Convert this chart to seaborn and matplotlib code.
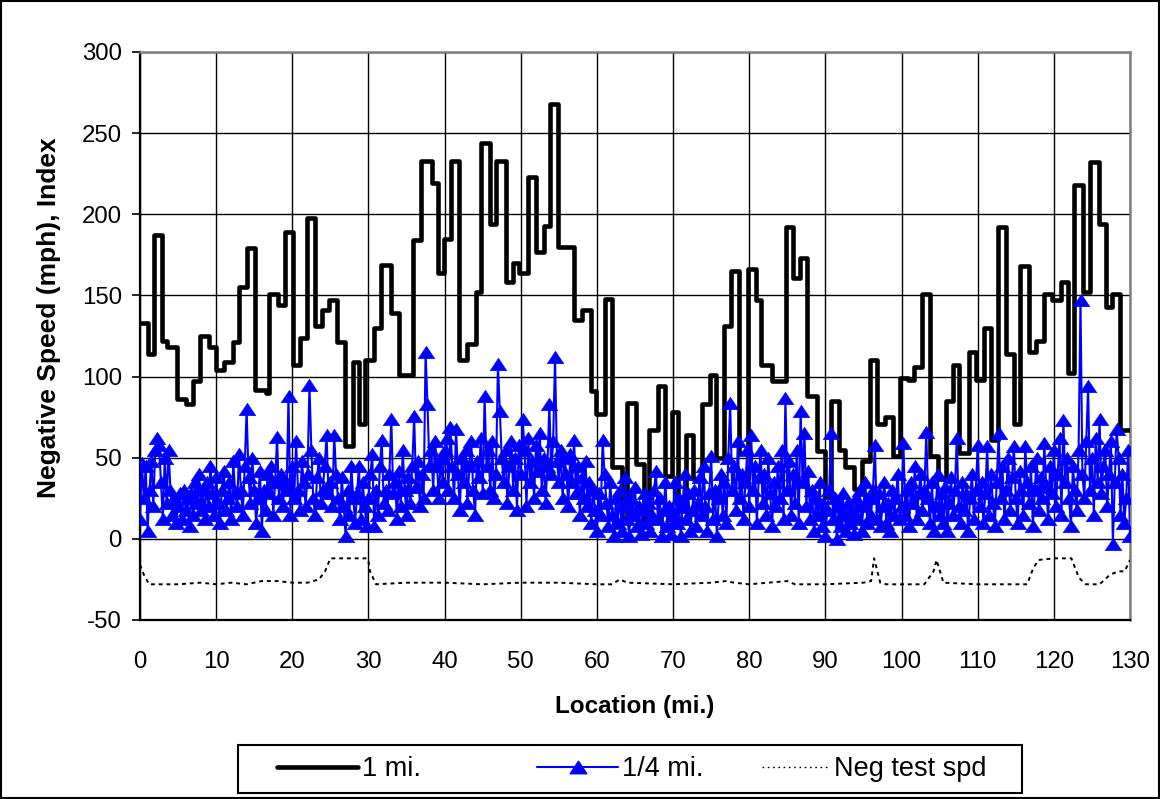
import numpy as np
import pandas as pd
import matplotlib
matplotlib.use("Agg")
import matplotlib.pyplot as plt
from matplotlib.lines import Line2D
from matplotlib.patches import Rectangle
from matplotlib.path import Path
import seaborn as sns

# ---------------------------------------------------------------------------
# Data
# ---------------------------------------------------------------------------
# 1-mile index: each level starts at the given milepost and holds until the next one
one_mi_start = [
    0.0, 1.1, 1.9, 2.9, 3.6, 4.9, 6.0, 7.0, 7.9, 9.0,
    10.0, 11.0, 12.2, 13.0, 14.0, 15.1, 16.5, 17.0, 18.1, 19.0,
    20.1, 21.0, 21.9, 23.0, 23.9, 24.8, 25.9, 26.9, 28.0, 28.8,
    29.6, 30.7, 31.7, 32.9, 34.0, 35.9, 36.9, 38.3, 39.1, 39.9,
    40.8, 41.9, 43.0, 44.1, 44.8, 46.0, 46.8, 48.1, 49.0, 49.8,
    50.9, 52.0, 53.1, 53.9, 54.9, 57.0, 58.1, 59.2, 59.9, 61.0,
    62.0, 63.3, 63.9, 65.1, 66.2, 66.8, 68.0, 68.9, 69.9, 70.6,
    71.7, 72.6, 73.8, 74.8, 75.6, 76.7, 77.6, 78.7, 79.8, 80.9,
    81.6, 83.0, 84.8, 85.8, 86.7, 87.6, 88.9, 89.9, 90.8, 91.8,
    92.6, 93.8, 94.8, 95.9, 96.8, 97.8, 98.9, 99.8, 100.9, 101.6,
    102.7, 103.7, 104.8, 105.9, 106.7, 107.6, 108.9, 109.8, 110.8, 111.8,
    112.7, 113.7, 114.8, 115.6, 116.7, 117.6, 118.7, 119.8, 120.9, 121.9,
    122.7, 123.8, 124.8, 125.9, 126.9, 127.7, 128.7, 130.0,
]
one_mi_value = [
    133, 114, 187, 122, 118, 86, 83, 97, 125, 118,
    104, 109, 121, 155, 179, 92, 90, 151, 144, 189,
    107, 124, 198, 131, 141, 147, 121, 57, 109, 71,
    110, 130, 169, 139, 101, 184, 233, 219, 164, 185,
    233, 110, 120, 152, 244, 194, 233, 158, 170, 164,
    223, 177, 193, 268, 180, 135, 141, 91, 77, 148,
    44, 12, 84, 46, 9, 67, 94, 39, 78, 17,
    64, 37, 83, 101, 50, 131, 165, 53, 166, 147,
    107, 97, 192, 161, 173, 88, 54, 26, 85, 55,
    44, 31, 48, 110, 71, 75, 51, 99, 98, 106,
    151, 51, 37, 85, 107, 53, 115, 98, 130, 61,
    192, 114, 71, 168, 115, 122, 151, 147, 158, 102,
    218, 152, 232, 194, 143, 151, 67, 67,
]

# 1/4-mile index, one reading every quarter mile from 0 to 130
quarter_mi_location = np.arange(0, 130.01, 0.25)
quarter_mi_value = [
    # 0-10
    12, 47, 25, 45, 5, 30, 48, 20, 55, 62, 58, 35, 12, 50, 22, 55, 30, 15, 25, 10,
    20, 28, 12, 30, 18, 25, 8, 28, 15, 35, 22, 40, 18, 30, 12, 35, 20, 45, 28, 15,
    # 10-20
    38, 22, 10, 30, 42, 18, 25, 35, 12, 48, 28, 20, 52, 30, 15, 45, 80, 38, 22, 50,
    30, 10, 25, 42, 5, 30, 18, 40, 28, 45, 15, 35, 63, 25, 40, 20, 35, 30, 88, 15,
    # 20-30
    45, 25, 60, 30, 18, 48, 35, 20, 40, 95, 55, 25, 15, 38, 50, 22, 30, 45, 64, 28,
    35, 20, 64, 40, 25, 12, 38, 20, 2, 30, 15, 45, 25, 10, 28, 45, 12, 35, 20, 8,
    # 30-40
    25, 40, 52, 8, 30, 15, 45, 61, 22, 30, 18, 40, 74, 28, 35, 12, 42, 20, 55, 30,
    15, 38, 22, 45, 76, 32, 48, 20, 40, 25, 115, 83, 45, 55, 30, 60, 45, 25, 50, 35,
    # 40-50
    55, 62, 30, 69, 45, 25, 68, 40, 18, 50, 35, 55, 22, 45, 60, 30, 15, 48, 38, 62,
    28, 88, 45, 55, 30, 60, 25, 40, 108, 79, 50, 35, 55, 22, 45, 60, 30, 50, 18, 58,
    # 50-60
    40, 74, 55, 20, 62, 35, 48, 25, 58, 42, 65, 30, 50, 22, 45, 83, 40, 60, 112, 48,
    35, 55, 25, 50, 40, 20, 52, 35, 61, 28, 45, 15, 38, 25, 48, 20, 35, 10, 30, 18,
    # 60-70
    5, 28, 15, 61, 40, 22, 8, 35, 15, 2, 25, 10, 30, 5, 20, 38, 12, 2, 25, 15,
    32, 8, 20, 3, 18, 28, 10, 22, 5, 15, 30, 42, 12, 25, 2, 18, 35, 8, 20, 3,
    # 70-80
    15, 35, 10, 25, 2, 20, 40, 12, 28, 5, 18, 30, 8, 22, 38, 15, 45, 20, 5, 28,
    51, 12, 30, 2, 25, 40, 15, 35, 10, 50, 84, 30, 45, 18, 60, 25, 40, 12, 35, 55,
    # 80-90
    20, 64, 30, 45, 10, 38, 55, 22, 40, 15, 50, 28, 8, 35, 20, 45, 25, 55, 12, 87,
    30, 48, 15, 40, 22, 55, 10, 79, 35, 65, 20, 42, 12, 30, 5, 25, 15, 35, 8, 22,
    # 90-100
    2, 18, 30, 65, 12, 25, 0, 20, 8, 28, 15, 5, 22, 10, 18, 3, 25, 12, 30, 5,
    20, 35, 10, 25, 15, 30, 58, 12, 28, 8, 20, 35, 10, 22, 5, 30, 15, 25, 40, 12,
    # 100-110
    20, 59, 15, 30, 8, 35, 22, 45, 12, 28, 40, 18, 30, 66, 25, 10, 35, 5, 20, 40,
    15, 28, 10, 32, 5, 22, 38, 15, 30, 62, 20, 10, 35, 18, 28, 5, 25, 40, 12, 30,
    # 110-120
    58, 20, 35, 10, 28, 57, 15, 40, 22, 8, 35, 65, 25, 45, 12, 30, 50, 18, 38, 57,
    25, 10, 42, 30, 15, 57, 35, 22, 45, 8, 30, 50, 18, 38, 25, 59, 32, 12, 45, 28,
    # 120-130
    55, 20, 40, 62, 15, 73, 35, 50, 25, 8, 45, 30, 18, 55, 147, 40, 25, 60, 94, 30,
    50, 15, 62, 35, 74, 28, 45, 55, 20, 40, 60, -3, 35, 68, 50, 15, 40, 10, 25, 55,
    2,
]

# Negative test speed trace (milepost, mph)
neg_test_location = [
    0.0, 0.5, 1.2, 5.0, 8.0, 10.0, 12.0, 14.0, 16.0, 18.0,
    20.0, 22.0, 23.5, 24.3, 25.0, 29.8, 30.0, 30.2, 31.0, 35.0,
    40.0, 45.0, 50.0, 55.0, 60.0, 62.0, 63.0, 64.0, 70.0, 75.0,
    77.0, 78.0, 80.0, 85.0, 86.0, 90.0, 95.0, 96.0, 96.4, 97.2,
    98.0, 103.0, 104.2, 104.6, 105.5, 110.0, 113.0, 116.5, 117.3, 118.0,
    120.0, 122.3, 123.3, 124.2, 126.0, 127.4, 128.5, 129.3, 130.0,
]
neg_test_speed = [
    -16, -22, -28, -28, -27, -28, -27, -28, -26, -26,
    -27, -27, -25, -20, -12, -12, -14, -20, -28, -27,
    -27, -28, -27, -27, -28, -28, -25, -27, -28, -27,
    -26, -27, -28, -26, -28, -28, -27, -26, -12, -27,
    -28, -28, -20, -13, -27, -28, -28, -28, -18, -13,
    -12, -12, -24, -28, -28, -22, -20, -20, -13,
]

x_ticks = list(range(0, 131, 10))
y_ticks = list(range(-50, 301, 50))
series_labels = ["1 mi.", "1/4 mi.", "Neg test spd"]

# ---------------------------------------------------------------------------
# Styling
# ---------------------------------------------------------------------------
sns.set_theme(style="white")
plt.rcParams["font.family"] = ["Liberation Sans", "DejaVu Sans"]
plt.rcParams.update({"text.color": "black", "axes.labelcolor": "black",
                     "xtick.color": "black", "ytick.color": "black"})

BLUE = "#0000FF"
# flat, wide triangle used for the quarter-mile readings
tri = Path([(-1.0, -0.75), (1.0, -0.75), (0.0, 0.75), (-1.0, -0.75)],
           [Path.MOVETO, Path.LINETO, Path.LINETO, Path.CLOSEPOLY])
MARKER_SIZE = 12
ONE_MI_LW = 3.3

fig = plt.figure(figsize=(11.6, 7.99), dpi=100)
ax = fig.add_axes([140 / 1160, 1 - 620 / 799, 990 / 1160, 568 / 799])

one_mi = pd.DataFrame({"mile": one_mi_start, "index": one_mi_value})
quarter = pd.DataFrame({"mile": quarter_mi_location, "index": quarter_mi_value})
neg = pd.DataFrame({"mile": neg_test_location, "speed": neg_test_speed})

sns.lineplot(data=one_mi, x="mile", y="index", ax=ax, color="black",
             linewidth=ONE_MI_LW, drawstyle="steps-post", zorder=3)
sns.lineplot(data=quarter, x="mile", y="index", ax=ax, color=BLUE,
             linewidth=1.5, marker=tri, markersize=MARKER_SIZE, markeredgecolor=BLUE,
             markerfacecolor=BLUE, markeredgewidth=0.4, zorder=4)
sns.lineplot(data=neg, x="mile", y="speed", ax=ax, color="black",
             linewidth=1.4, linestyle=(0, (2.0, 2.0)), zorder=3)

ax.set_xlim(0, 130)
ax.set_ylim(-50, 300)
ax.set_xticks(x_ticks)
ax.set_yticks(y_ticks)
ax.set_xticklabels([str(v) for v in x_ticks], fontsize=17.3)
ax.set_yticklabels([str(v) for v in y_ticks], fontsize=17.3)
ax.tick_params(axis="y", which="major", direction="out", length=6, width=1.2,
               color="black", pad=7, left=True)
ax.tick_params(axis="x", which="major", length=0, pad=22)

ax.grid(True, color="black", linewidth=1.0)
ax.set_axisbelow(True)

for side in ("left", "bottom"):
    ax.spines[side].set_color("black")
    ax.spines[side].set_linewidth(1.6)
for side in ("top", "right"):
    ax.spines[side].set_color("#808080")
    ax.spines[side].set_linewidth(1.8)

ax.set_xlabel("Location (mi.)", fontsize=17.5, fontweight="bold", labelpad=16)
ax.set_ylabel("Negative Speed (mph), Index", fontsize=19, fontweight="bold")
ax.yaxis.set_label_coords((61 - 140) / 990, (620 - 318) / 568)

# ---------------------------------------------------------------------------
# Legend: framed box with three evenly placed entries
# ---------------------------------------------------------------------------
handles = [
    Line2D([], [], color="black", linewidth=ONE_MI_LW),
    Line2D([], [], color=BLUE, linewidth=1.5, marker=tri, markersize=MARKER_SIZE,
           markeredgecolor=BLUE, markerfacecolor=BLUE),
    Line2D([], [], color="black", linewidth=1.0, linestyle=(0, (1.2, 2.6))),
]
entry_left_px = [277, 537, 762]
entry_handle_len = [3.0, 3.0, 2.5]
legend_center_y = 1 - 769 / 799
for h, lab, x0, hl in zip(handles, series_labels, entry_left_px, entry_handle_len):
    fig.legend([h], [lab], loc="center left",
               bbox_to_anchor=(x0 / 1160, legend_center_y),
               frameon=False, fontsize=19.5, handlelength=hl,
               handletextpad=0.15, borderpad=0.0, borderaxespad=0.0)

fig.patches.append(Rectangle((238 / 1160, 1 - 793 / 799), 784 / 1160, 48 / 799,
                             transform=fig.transFigure, fill=False,
                             edgecolor="black", linewidth=1.5))

# Chart-area border
fig.patches.append(Rectangle((0.001, 0.001), 0.998, 0.998, transform=fig.transFigure,
                             fill=False, edgecolor="black", linewidth=1.5))

fig.savefig("out.png", dpi=100)
